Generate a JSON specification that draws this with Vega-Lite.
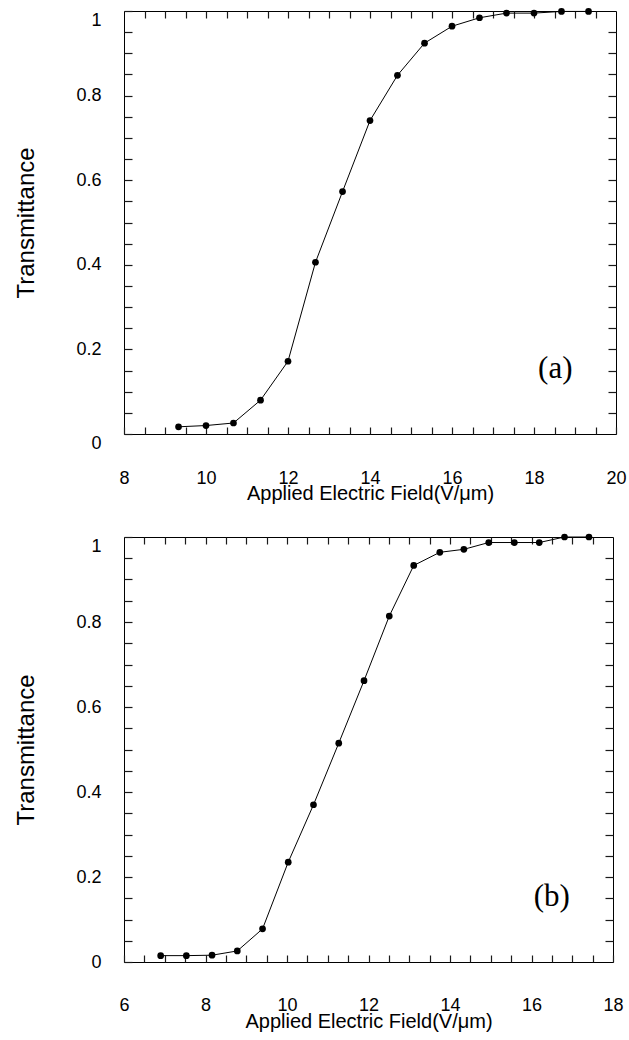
{
  "$schema": "https://vega.github.io/schema/vega-lite/v6.json",
  "background": "white",
  "padding": {"left": 13, "top": 7, "right": 5, "bottom": 5},
  "bounds": "flush",
  "spacing": 103,
  "config": {
    "view": {"stroke": "black", "strokeWidth": 1, "fill": null},
    "axis": {"grid": false, "domain": false, "labelColor": "black", "titleColor": "black", "labelFont": "Liberation Sans", "titleFont": "Liberation Sans", "labelFontSize": 18, "titleFontWeight": "normal", "labelFlush": false, "labelOverlap": false}
  },
  "vconcat": [
    {
      "width": 492,
      "height": 423,
      "data": {"values": [
        {"field": 9.33, "T": 0.017}, {"field": 10.0, "T": 0.020}, {"field": 10.67, "T": 0.026}, {"field": 11.33, "T": 0.080},
        {"field": 12.0, "T": 0.172}, {"field": 12.67, "T": 0.406}, {"field": 13.33, "T": 0.573}, {"field": 14.0, "T": 0.741},
        {"field": 14.67, "T": 0.848}, {"field": 15.33, "T": 0.924}, {"field": 16.0, "T": 0.964}, {"field": 16.67, "T": 0.984},
        {"field": 17.33, "T": 0.995}, {"field": 18.0, "T": 0.995}, {"field": 18.67, "T": 0.999}, {"field": 19.33, "T": 0.999}
      ]},
      "resolve": {"axis": {"x": "independent", "y": "independent"}},
      "layer": [
        {
          "mark": {"type": "line", "color": "black", "strokeWidth": 1, "point": {"filled": true, "color": "black", "size": 45, "opacity": 1}},
          "encoding": {
            "x": {"field": "field", "type": "quantitative", "scale": {"domain": [8, 20], "nice": false, "zero": false},
              "axis": {"orient": "bottom", "values": [8, 8.5, 9, 9.5, 10, 10.5, 11, 11.5, 12, 12.5, 13, 13.5, 14, 14.5, 15, 15.5, 16, 16.5, 17, 17.5, 18, 18.5, 19, 19.5, 20],
                "format": "~g", "labelExpr": "datum.value % 2 == 0 ? datum.label : ''", "ticks": true, "tickColor": "#1a1a1a", "tickWidth": 1.2, "tickOpacity": 1, "tickSize": -7, "labelPadding": 42,
                "title": "Applied Electric Field(V/μm)", "titleFontSize": 20, "titleBaseline": "alphabetic", "titleY": 65}},
            "y": {"field": "T", "type": "quantitative", "scale": {"domain": [0, 1], "nice": false, "zero": false},
              "axis": {"orient": "left", "values": [0, 0.05, 0.1, 0.15, 0.2, 0.25, 0.3, 0.35, 0.4, 0.45, 0.5, 0.55, 0.6, 0.65, 0.7, 0.75, 0.8, 0.85, 0.9, 0.95, 1],
                "format": "~g", "labelExpr": "abs(datum.value * 5 - round(datum.value * 5)) < 0.001 ? datum.label : ''",
                "ticks": true, "tickColor": "#1a1a1a", "tickWidth": 1.2, "tickOpacity": 1, "tickSize": -8, "labelPadding": 31,
                "labelBaseline": {"condition": {"test": "datum.value == 0 || datum.value == 1", "value": "top"}, "value": "middle"},
                "title": "Transmittance", "titleFontSize": 24, "titleBaseline": "alphabetic", "titleX": -91}}
          }
        },
        {
          "mark": {"type": "point", "opacity": 0},
          "encoding": {
            "x": {"field": "field", "type": "quantitative", "axis": {"orient": "top", "values": [8.5, 9, 9.5, 10, 10.5, 11, 11.5, 12, 12.5, 13, 13.5, 14, 14.5, 15, 15.5, 16, 16.5, 17, 17.5, 18, 18.5, 19, 19.5], "ticks": true, "tickColor": "#1a1a1a", "tickWidth": 1.2, "tickOpacity": 1, "tickSize": -7, "labels": false, "title": null}},
            "y": {"field": "T", "type": "quantitative", "axis": {"orient": "right", "values": [0.05, 0.1, 0.15, 0.2, 0.25, 0.3, 0.35, 0.4, 0.45, 0.5, 0.55, 0.6, 0.65, 0.7, 0.75, 0.8, 0.85, 0.9, 0.95], "ticks": true, "tickColor": "#1a1a1a", "tickWidth": 1.2, "tickOpacity": 1, "tickSize": -8, "labels": false, "title": null}}
          }
        },
        {
          "data": {"values": [{"label": "(a)"}]},
          "mark": {"type": "text", "font": "Liberation Serif", "fontSize": 31, "align": "center", "baseline": "middle", "color": "black"},
          "encoding": {
            "text": {"field": "label"},
            "x": {"datum": 18.52, "type": "quantitative", "axis": null},
            "y": {"datum": 0.154, "type": "quantitative", "axis": null}
          }
        }
      ]
    },
    {
      "width": 489,
      "height": 425,
      "data": {"values": [
        {"field": 6.90, "T": 0.015}, {"field": 7.53, "T": 0.015}, {"field": 8.16, "T": 0.016}, {"field": 8.78, "T": 0.026},
        {"field": 9.40, "T": 0.078}, {"field": 10.03, "T": 0.235}, {"field": 10.65, "T": 0.370}, {"field": 11.27, "T": 0.515},
        {"field": 11.89, "T": 0.662}, {"field": 12.51, "T": 0.814}, {"field": 13.11, "T": 0.933}, {"field": 13.75, "T": 0.964},
        {"field": 14.34, "T": 0.971}, {"field": 14.95, "T": 0.987}, {"field": 15.58, "T": 0.987}, {"field": 16.19, "T": 0.987},
        {"field": 16.81, "T": 1.0}, {"field": 17.41, "T": 1.0}
      ]},
      "resolve": {"axis": {"x": "independent", "y": "independent"}},
      "layer": [
        {
          "mark": {"type": "line", "color": "black", "strokeWidth": 1, "point": {"filled": true, "color": "black", "size": 45, "opacity": 1}},
          "encoding": {
            "x": {"field": "field", "type": "quantitative", "scale": {"domain": [6, 18], "nice": false, "zero": false},
              "axis": {"orient": "bottom", "values": [6, 6.5, 7, 7.5, 8, 8.5, 9, 9.5, 10, 10.5, 11, 11.5, 12, 12.5, 13, 13.5, 14, 14.5, 15, 15.5, 16, 16.5, 17, 17.5, 18],
                "format": "~g", "labelExpr": "datum.value % 2 == 0 ? datum.label : ''", "ticks": true, "tickColor": "#1a1a1a", "tickWidth": 1.2, "tickOpacity": 1, "tickSize": -7, "labelPadding": 41,
                "title": "Applied Electric Field(V/μm)", "titleFontSize": 20, "titleBaseline": "alphabetic", "titleY": 65}},
            "y": {"field": "T", "type": "quantitative", "scale": {"domain": [0, 1], "nice": false, "zero": false},
              "axis": {"orient": "left", "values": [0, 0.05, 0.1, 0.15, 0.2, 0.25, 0.3, 0.35, 0.4, 0.45, 0.5, 0.55, 0.6, 0.65, 0.7, 0.75, 0.8, 0.85, 0.9, 0.95, 1],
                "format": "~g", "labelExpr": "abs(datum.value * 5 - round(datum.value * 5)) < 0.001 ? datum.label : ''",
                "ticks": true, "tickColor": "#1a1a1a", "tickWidth": 1.2, "tickOpacity": 1, "tickSize": -8, "labelPadding": 31,
                "labelBaseline": {"condition": {"test": "datum.value == 1", "value": "top"}, "value": "middle"},
                "title": "Transmittance", "titleFontSize": 24, "titleBaseline": "alphabetic", "titleX": -91}}
          }
        },
        {
          "mark": {"type": "point", "opacity": 0},
          "encoding": {
            "x": {"field": "field", "type": "quantitative", "axis": {"orient": "top", "values": [6.5, 7, 7.5, 8, 8.5, 9, 9.5, 10, 10.5, 11, 11.5, 12, 12.5, 13, 13.5, 14, 14.5, 15, 15.5, 16, 16.5, 17, 17.5], "ticks": true, "tickColor": "#1a1a1a", "tickWidth": 1.2, "tickOpacity": 1, "tickSize": -7, "labels": false, "title": null}},
            "y": {"field": "T", "type": "quantitative", "axis": {"orient": "right", "values": [0.05, 0.1, 0.15, 0.2, 0.25, 0.3, 0.35, 0.4, 0.45, 0.5, 0.55, 0.6, 0.65, 0.7, 0.75, 0.8, 0.85, 0.9, 0.95], "ticks": true, "tickColor": "#1a1a1a", "tickWidth": 1.2, "tickOpacity": 1, "tickSize": -8, "labels": false, "title": null}}
          }
        },
        {
          "data": {"values": [{"label": "(b)"}]},
          "mark": {"type": "text", "font": "Liberation Serif", "fontSize": 31, "align": "center", "baseline": "middle", "color": "black"},
          "encoding": {
            "text": {"field": "label"},
            "x": {"datum": 16.5, "type": "quantitative", "axis": null},
            "y": {"datum": 0.153, "type": "quantitative", "axis": null}
          }
        }
      ]
    }
  ]
}
